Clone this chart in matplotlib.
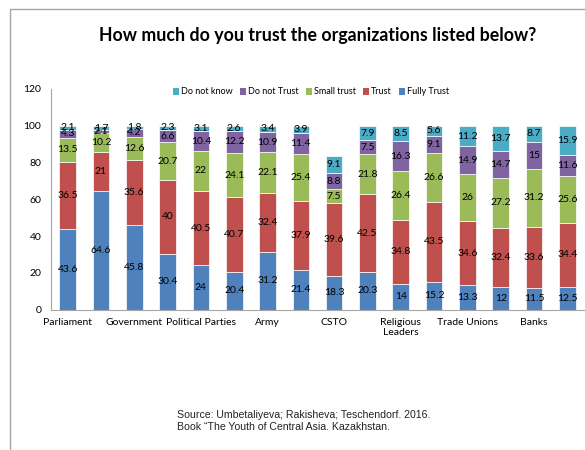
import matplotlib
matplotlib.use("Agg")
import matplotlib.pyplot as plt
from matplotlib.patches import Rectangle, Patch

# categories (Excel shows only every second label)
categories = ["Parliament", "", "Government", "", "Political Parties", "", "Army", "",
              "CSTO", "", "Religious\nLeaders", "", "Trade Unions", "", "Banks", ""]

fully_trust = [43.6, 64.6, 45.8, 30.4, 24, 20.4, 31.2, 21.4, 18.3, 20.3, 14, 15.2, 13.3, 12, 11.5, 12.5]
trust = [36.5, 21, 35.6, 40, 40.5, 40.7, 32.4, 37.9, 39.6, 42.5, 34.8, 43.5, 34.6, 32.4, 33.6, 34.4]
small_trust = [13.5, 10.2, 12.6, 20.7, 22, 24.1, 22.1, 25.4, 7.5, 21.8, 26.4, 26.6, 26, 27.2, 31.2, 25.6]
do_not_trust = [4.3, 2.1, 4.2, 6.6, 10.4, 12.2, 10.9, 11.4, 8.8, 7.5, 16.3, 9.1, 14.9, 14.7, 15, 11.6]
do_not_know = [2.1, 1.7, 1.8, 2.3, 3.1, 2.6, 3.4, 3.9, 9.1, 7.9, 8.5, 5.6, 11.2, 13.7, 8.7, 15.9]

series = [("Fully Trust", fully_trust, "#4F81BD"),
          ("Trust", trust, "#C0504D"),
          ("Small trust", small_trust, "#9BBB59"),
          ("Do not Trust", do_not_trust, "#8064A2"),
          ("Do not know", do_not_know, "#4BACC6")]

plt.rcParams['font.family'] = ['Lato', 'DejaVu Sans']

fig = plt.figure(figsize=(5.85, 4.5), dpi=100)
# chart border (only left and top visible in the crop)
fig.add_artist(Rectangle((10 / 585, -0.1), 1.2, 1 - 9 / 450 + 0.1, transform=fig.transFigure,
                         fill=False, edgecolor="#a6a6a6", linewidth=1))

ax = fig.add_axes([51 / 585, 1 - 309.5 / 450, 533 / 585, 220.5 / 450])

x = list(range(len(categories)))
bottom = [0] * len(x)
handles = {}
for name, vals, col in series:
    bars = ax.bar(x, vals, width=0.5, bottom=bottom, color=col, edgecolor="white", linewidth=0.5)
    ax.bar_label(bars, labels=["%g" % v for v in vals], label_type="center", fontsize=7.5, color="black")
    handles[name] = Patch(facecolor=col)
    bottom = [b + v for b, v in zip(bottom, vals)]

ax.set_xlim(-0.5, len(x) - 0.5)
ax.set_ylim(0, 120)
ax.set_yticks(range(0, 121, 20))
ax.set_xticks(x)
ax.set_xticklabels(categories, fontsize=7.5)
ax.tick_params(axis="x", length=0, pad=6)
ax.tick_params(axis="y", length=0, pad=7, labelsize=7.5)
for s in ["top", "right"]:
    ax.spines[s].set_visible(False)
ax.spines["left"].set_color("#a6a6a6")
ax.spines["bottom"].set_color("#a6a6a6")

order = ["Do not know", "Do not Trust", "Small trust", "Trust", "Fully Trust"]
fig.legend([handles[n] for n in order], order, loc="center", bbox_to_anchor=(311 / 585, 1 - 92 / 450),
           ncol=5, frameon=False, fontsize=6.5, handlelength=0.7, handleheight=0.7,
           handletextpad=0.2, columnspacing=0.8)

fig.text(318 / 585, 1 - 35 / 450, "How much do you trust the organizations listed below?",
         ha="center", va="center", fontsize=12.8, fontweight="bold")

fig.text(177 / 585, 1 - 421 / 450,
         "Source: Umbetaliyeva; Rakisheva; Teschendorf. 2016.\nBook \u201cThe Youth of Central Asia. Kazakhstan.",
         ha="left", va="center", fontsize=7.6, family=["Liberation Sans", "DejaVu Sans"],
         color="#222222", linespacing=1.15)

fig.savefig("out.png", dpi=100)
